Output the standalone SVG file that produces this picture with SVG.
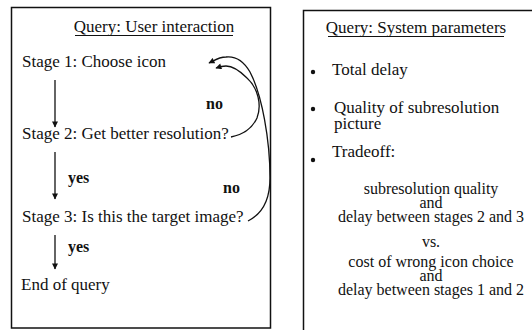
<svg xmlns="http://www.w3.org/2000/svg" width="532" height="330" viewBox="0 0 532 330">
<style>
text{font-family:"Liberation Serif","Times New Roman","DejaVu Serif",serif;font-size:17px;fill:#111}
.lbl{font-weight:bold;font-size:16px}
.mid{text-anchor:middle}
.sm{font-size:16px}
.box{fill:none;stroke:#111;stroke-width:1.5}
.ul{stroke:#111;stroke-width:1.2}
.con{fill:none;stroke:#111;stroke-width:1.3}
</style>
<defs>
<marker id="ah" viewBox="0 0 10 10" refX="9" refY="5" markerWidth="8" markerHeight="6" markerUnits="userSpaceOnUse" orient="auto">
<path d="M0,0 L10,5 L0,10 Z" fill="#111"/>
</marker>
</defs>
<rect width="532" height="330" fill="#fff"/>
<g id="panel-user">
<rect class="box" x="11.5" y="7.5" width="259" height="320.5"/>
<text class="mid" x="154" y="32">Query: User interaction</text>
<line class="ul" x1="75" y1="35.5" x2="233" y2="35.5"/>
</g>
<g id="stage1"><text x="22" y="67">Stage 1: Choose icon</text></g>
<g id="stage2"><text x="22" y="139">Stage 2: Get better resolution?</text></g>
<g id="stage3"><text x="22" y="222">Stage 3: Is this the target image?</text></g>
<g id="end"><text x="21" y="290">End of query</text></g>
<g id="connectors">
<line class="con" x1="55" y1="80" x2="55" y2="127" marker-end="url(#ah)"/>
<line class="con" x1="55" y1="152" x2="55" y2="199" marker-end="url(#ah)"/>
<line class="con" x1="55" y1="235" x2="55" y2="269" marker-end="url(#ah)"/>
<path class="con" d="M231,137 C242,135 252,129 257,118 C262,105 258,88 247,78 C240,71 233,66 226,66 C222,66 219,67 216,68" marker-end="url(#ah)"/>
<path class="con" d="M248,221 C258,216 270,205 270,178 C270,140 262,95 250,72 C243,60 235,56 226,57 C219,57 215,60 209,63" marker-end="url(#ah)"/>
<text class="lbl" x="206" y="109">no</text>
<text class="lbl" x="68" y="183">yes</text>
<text class="lbl" x="223" y="193">no</text>
<text class="lbl" x="68" y="252">yes</text>
</g>
<g id="panel-system">
<rect class="box" x="303.5" y="10.5" width="240" height="330"/>
<text class="mid" x="416" y="33">Query: System parameters</text>
<line class="ul" x1="328" y1="36.5" x2="504" y2="36.5"/>
<circle cx="313" cy="72" r="2.2" fill="#111"/>
<text x="332" y="75">Total delay</text>
<circle cx="313" cy="109" r="2.2" fill="#111"/>
<text x="334" y="113">Quality of subresolution</text>
<text x="334" y="129">picture</text>
<circle cx="313" cy="160" r="2.2" fill="#111"/>
<text x="332" y="157">Tradeoff:</text>
<text class="mid sm" x="431" y="194">subresolution quality</text>
<text class="mid sm" x="431" y="208">and</text>
<text class="mid sm" x="431" y="222">delay between stages 2 and 3</text>
<text class="mid sm" x="431" y="247">vs.</text>
<text class="mid sm" x="431" y="267">cost of wrong icon choice</text>
<text class="mid sm" x="431" y="281">and</text>
<text class="mid sm" x="431" y="295">delay between stages 1 and 2</text>
</g>
</svg>
